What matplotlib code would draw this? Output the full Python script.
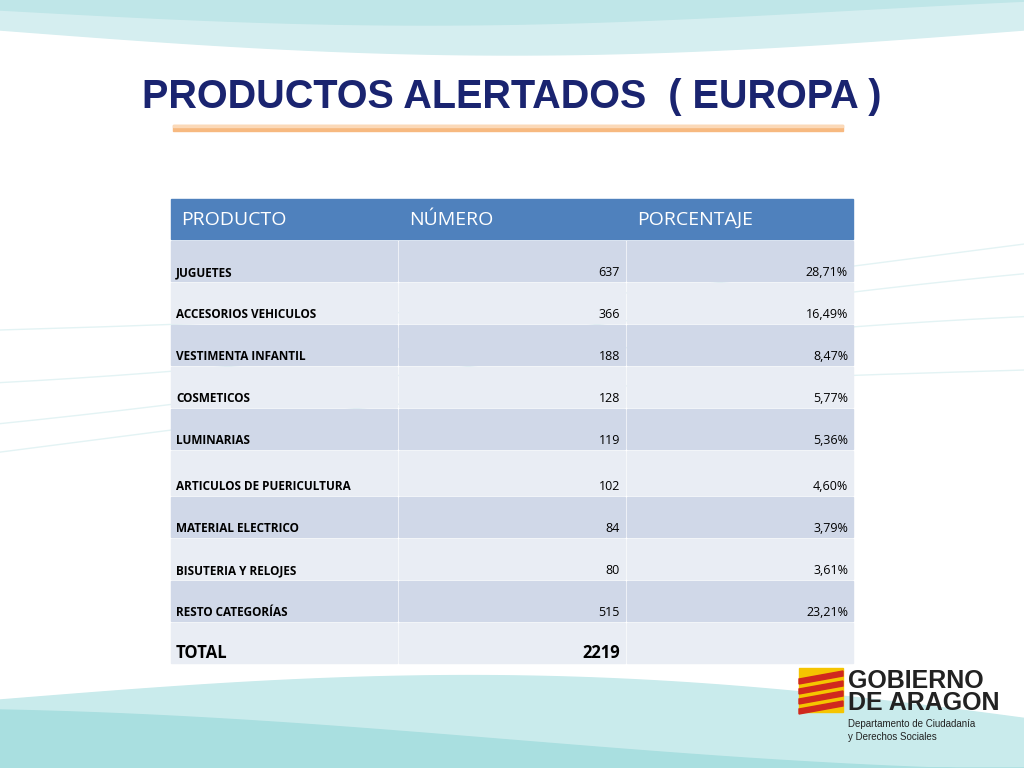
import matplotlib
matplotlib.use("Agg")
import matplotlib.pyplot as plt
from matplotlib.patches import Rectangle, Polygon
import numpy as np

title = "PRODUCTOS ALERTADOS  ( EUROPA )"
headers = ["PRODUCTO", "NÚMERO", "PORCENTAJE"]
productos = ["JUGUETES", "ACCESORIOS VEHICULOS", "VESTIMENTA INFANTIL", "COSMETICOS",
             "LUMINARIAS", "ARTICULOS DE PUERICULTURA", "MATERIAL ELECTRICO",
             "BISUTERIA Y RELOJES", "RESTO CATEGORÍAS"]
numeros = [637, 366, 188, 128, 119, 102, 84, 80, 515]
porcentajes = ["28,71%", "16,49%", "8,47%", "5,77%", "5,36%", "4,60%", "3,79%", "3,61%", "23,21%"]
total_label = "TOTAL"
total_value = 2219

FONT = "Liberation Sans"
fig = plt.figure(figsize=(10.24, 7.68), dpi=100)
ax = fig.add_axes([0, 0, 1, 1])
ax.set_xlim(0, 1024); ax.set_ylim(768, 0); ax.axis("off")

# background swooshes
x = np.linspace(0, 1024, 300)
ax.fill_between(x, 0, 30 + 25*np.sin(x/1024*np.pi), color="#D5EEF0", zorder=0)
ax.fill_between(x, 0, 10 + 15*np.sin(x/1024*np.pi*1.2), color="#BFE6E8", zorder=0)
ax.fill_between(x, 768, 700 - 40*np.sin(x/1024*np.pi*0.9) + 0.03*x, color="#C9EBEC", zorder=0)
ax.fill_between(x, 768, 730 - 20*np.cos(x/1024*np.pi) + 0.02*x, color="#A9DFE0", zorder=0)
for k in range(4):
    ax.plot(x, 330 + 40*k - 0.08*x + 15*np.sin(x/300 + k), color="#E3F3F4", lw=1, zorder=0)

ax.text(512, 97, title, ha="center", va="center", fontsize=28.5, fontweight="bold",
        color="#1A2470", family=FONT)
ax.add_patch(Rectangle((173, 125), 670, 6, color="#F7B980", zorder=1))
ax.add_patch(Rectangle((173, 125), 670, 2, color="#FBD9B8", zorder=1))

cols = [171, 399, 627]
w = 226
ax.add_patch(Rectangle((171, 199), 682, 40, color="#4F81BD"))
for c, h in zip(cols, headers):
    ax.text(c + 10, 220, h, ha="left", va="center", fontsize=14, color="white", family="Open Sans")

bounds = [241, 283, 325, 367, 409, 451, 497, 539, 581, 623, 665]
for i in range(10):
    y0, y1 = bounds[i], bounds[i+1]
    color = "#D0D8E8" if i % 2 == 0 else "#E9EDF4"
    for c in cols:
        ax.add_patch(Rectangle((c, y0), w, y1 - y0 - 2, color=color))
    yt = y1 - 10
    if i < 9:
        ax.text(176, yt, productos[i], ha="left", va="center", fontsize=8.5, fontweight="bold",
                color="black", family="Open Sans")
        ax.text(620, yt, str(numeros[i]), ha="right", va="center", fontsize=9, family="Open Sans")
        ax.text(848, yt, porcentajes[i], ha="right", va="center", fontsize=9, family="Open Sans")
    else:
        ax.text(176, yt - 2, total_label, ha="left", va="center", fontsize=12, fontweight="bold",
                family="Open Sans")
        ax.text(620, yt - 2, str(total_value), ha="right", va="center", fontsize=12,
                fontweight="bold", family="Open Sans")

# logo
ax.add_patch(Rectangle((799, 668), 44, 44, color="#F5C400", zorder=2))
for k in range(4):
    yy = 673 + k*10
    ax.add_patch(Polygon([(799, yy+6), (843, yy-2), (843, yy+3), (799, yy+11)],
                         color="#D0281E", zorder=3))
ax.text(848, 681, "GOBIERNO", fontsize=18, fontweight="bold", color="#222", va="center",
        family=FONT)
ax.text(848, 703, "DE ARAGON", fontsize=18, fontweight="bold", color="#222", va="center",
        family=FONT)
ax.text(848, 724, "Departamento de Ciudadanía", fontsize=7, color="#222", va="center", family=FONT)
ax.text(848, 737, "y Derechos Sociales", fontsize=7, color="#222", va="center", family=FONT)

fig.savefig("out.png", dpi=100)
